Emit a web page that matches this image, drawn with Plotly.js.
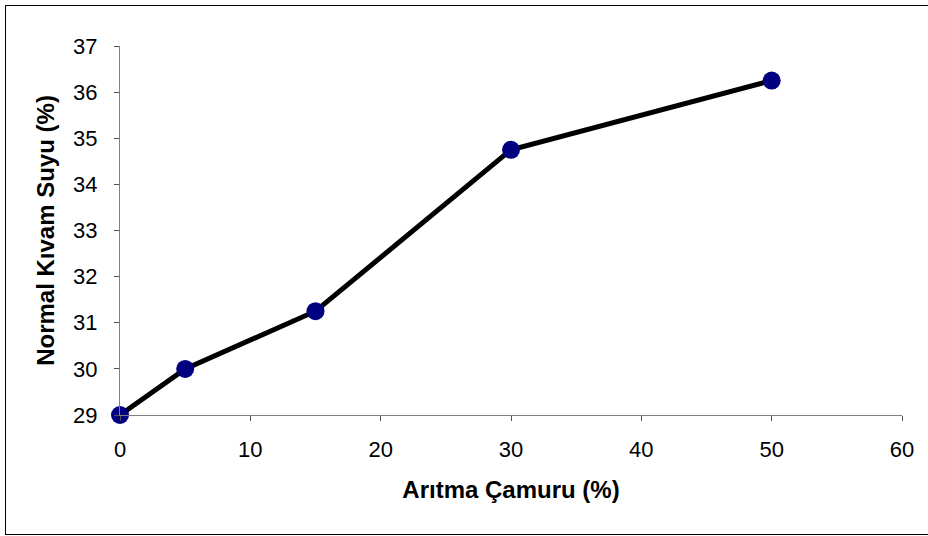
<!DOCTYPE html>
<html>
<head>
<meta charset="utf-8">
<script src="https://cdn.plot.ly/plotly-3.0.1.min.js"></script>
<style>
html,body{margin:0;padding:0;background:#fff;}
#wrap{position:relative;width:928px;height:536px;}
#chart{width:928px;height:536px;}
#frame{position:absolute;left:5px;top:5px;width:923px;height:530px;border:1.5px solid #000;border-right:none;box-sizing:border-box;pointer-events:none;}
</style>
</head>
<body>
<div id="wrap"><div id="chart"></div><div id="frame"></div></div>
<script>
const sludgePercent = [0, 5, 15, 30, 50];
const waterPercent = [29, 30, 31.25, 34.75, 36.25];
const xTitle = 'Arıtma Çamuru (%)';
const yTitle = 'Normal Kıvam Suyu (%)';

const font = 'Liberation Sans, Arial, sans-serif';
Plotly.newPlot('chart', [{
  x: sludgePercent,
  y: waterPercent,
  type: 'scatter',
  mode: 'lines+markers',
  line: {color: '#000', width: 5},
  marker: {color: '#000080', size: 18},
  cliponaxis: false,
  showlegend: false
}], {
  width: 928, height: 536,
  margin: {l: 120, r: 26, t: 46, b: 121},
  paper_bgcolor: '#fff', plot_bgcolor: '#fff',
  font: {family: font, color: '#000', size: 22},
  xaxis: {
    range: [0, 60], dtick: 10, tick0: 0,
    showgrid: false, zeroline: false,
    showline: true, linecolor: '#808080', linewidth: 1,
    ticks: 'outside', ticklen: 5, tickcolor: '#505050', tickwidth: 1,
    ticklabelstandoff: 10,
    tickfont: {size: 22, family: font},
    title: {text: xTitle, font: {size: 24, family: font, weight: 'bold'}, standoff: 19}
  },
  yaxis: {
    range: [29, 37], dtick: 1, tick0: 29,
    showgrid: false, zeroline: false,
    showline: true, linecolor: '#808080', linewidth: 1,
    ticks: 'outside', ticklen: 5, tickcolor: '#505050', tickwidth: 1,
    ticklabelstandoff: 12,
    tickfont: {size: 22, family: font},
    title: {text: yTitle, font: {size: 24, family: font, weight: 'bold'}, standoff: 11}
  }
}, {displayModeBar: false, staticPlot: true});
</script>
</body>
</html>
